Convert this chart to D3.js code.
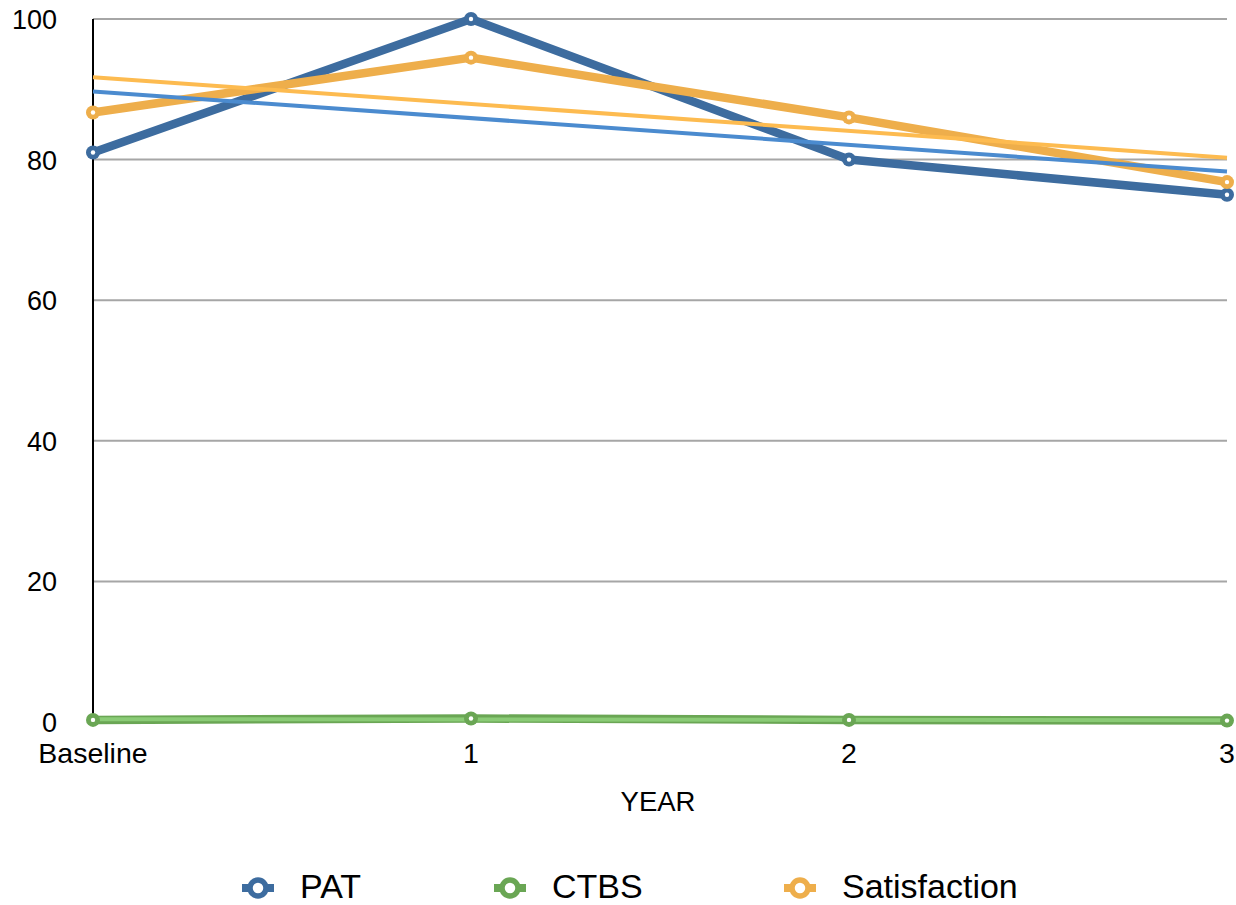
<!DOCTYPE html>
<html><head><meta charset="utf-8">
<script src="https://cdn.jsdelivr.net/npm/d3@7"></script>
<style>body{margin:0;background:#fff}svg{display:block}text{font-family:"Liberation Sans",Arial,Helvetica,sans-serif;fill:#000}</style>
</head><body><svg id="c" width="1236" height="905"></svg>
<script>
const categories = ["Baseline", "1", "2", "3"];
const patValues = [81, 100, 80, 75];
const ctbsValues = [0.3, 0.5, 0.3, 0.2];
const satisfactionValues = [86.7, 94.5, 86, 76.8];
const yTicks = [0, 20, 40, 60, 80, 100];
const seriesNames = ["PAT", "CTBS", "Satisfaction"];

const series = [
  {name: seriesNames[0], values: patValues, color: "#3d6c9f", trend: "#4b8bcf"},
  {name: seriesNames[1], values: ctbsValues, color: "#6aa654", trend: "#8acb76"},
  {name: seriesNames[2], values: satisfactionValues, color: "#eeae4b", trend: "#fdbb50"}
];

const svg = d3.select("#c");
const x = d3.scalePoint().domain(categories).range([93, 1227]);
const y = d3.scaleLinear().domain([0, 100]).range([722, 19]);

// gridlines
svg.append("g").selectAll("line").data(yTicks.filter(d => d > 0)).join("line")
  .attr("x1", 93).attr("x2", 1227).attr("y1", d => y(d)).attr("y2", d => y(d))
  .attr("stroke", "#a6a6a6").attr("stroke-width", 2);

// y axis line
svg.append("line").attr("x1", 93).attr("x2", 93).attr("y1", y(100)).attr("y2", y(0))
  .attr("stroke", "#000").attr("stroke-width", 2);

// y tick labels
svg.append("g").selectAll("text").data(yTicks).join("text")
  .attr("x", 57).attr("y", d => y(d) + 10).attr("text-anchor", "end")
  .attr("font-size", 27).text(d => d);

// x tick labels
svg.append("g").selectAll("text").data(categories).join("text")
  .attr("x", d => x(d)).attr("y", 763).attr("text-anchor", "middle")
  .attr("font-size", 28.5).text(d => d);

svg.append("text").attr("x", 658).attr("y", 811).attr("text-anchor", "middle")
  .attr("font-size", 27.5).text("YEAR");

const line = d3.line().x((d, i) => x(categories[i])).y(d => y(d));

function regression(vals) {
  const xs = vals.map((_, i) => i);
  const mx = d3.mean(xs), my = d3.mean(vals);
  const slope = d3.sum(xs, (xi, i) => (xi - mx) * (vals[i] - my)) / d3.sum(xs, xi => (xi - mx) ** 2);
  const b = my - slope * mx;
  return xs.map(xi => b + slope * xi);
}

// main lines
series.forEach(s => {
  svg.append("path").datum(s.values).attr("d", line)
    .attr("fill", "none").attr("stroke", s.color).attr("stroke-width", 8.5)
    .attr("stroke-linejoin", "round").attr("stroke-linecap", "round");
});
// trend lines
series.forEach(s => {
  const t = regression(s.values);
  svg.append("path").datum([t[0], t[t.length - 1]])
    .attr("d", d3.line().x((d, i) => x(categories[i === 0 ? 0 : categories.length - 1])).y(d => y(d)))
    .attr("fill", "none").attr("stroke", s.trend).attr("stroke-width", 4);
});
// markers
series.forEach(s => {
  const g = svg.append("g");
  g.selectAll("circle.o").data(s.values).join("circle").attr("class", "o")
    .attr("cx", (d, i) => x(categories[i])).attr("cy", d => y(d)).attr("r", 7).attr("fill", s.color);
  g.selectAll("circle.i").data(s.values).join("circle").attr("class", "i")
    .attr("cx", (d, i) => x(categories[i])).attr("cy", d => y(d)).attr("r", 2.2).attr("fill", "#fff");
});

// legend
const legendX = [258, 510, 800];
series.forEach((s, i) => {
  const g = svg.append("g").attr("transform", `translate(${legendX[i]},888)`);
  g.append("line").attr("x1", -16).attr("x2", 16).attr("stroke", s.color).attr("stroke-width", 8);
  g.append("circle").attr("r", 8).attr("fill", "#fff").attr("stroke", s.color).attr("stroke-width", 5.5);
  g.append("text").attr("x", 42).attr("y", 898).attr("transform", "translate(0,-888)")
    .attr("font-size", 34).text(s.name);
});
</script></body></html>
